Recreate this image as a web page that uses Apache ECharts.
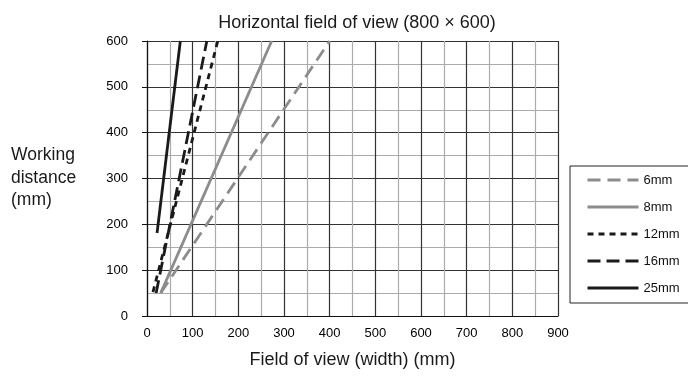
<!DOCTYPE html>
<html>
<head>
<meta charset="utf-8">
<script src="https://cdn.jsdelivr.net/npm/echarts@6/dist/echarts.min.js"></script>
<style>html,body{margin:0;padding:0;background:#fff;}#c{width:688px;height:376px;}</style>
</head>
<body>
<div id="c"></div>
<script>
// Data
const lenses = ['6mm', '8mm', '12mm', '16mm', '25mm'];
const fov6mm  = [30, 400];  const wd6mm  = [50, 600];
const fov8mm  = [30, 273];  const wd8mm  = [50, 600];
const fov12mm = [13, 155];  const wd12mm = [52, 600];
const fov16mm = [20, 131];  const wd16mm = [50, 600];
const fov25mm = [22, 73];   const wd25mm = [181, 600];
const xTicks = [0, 100, 200, 300, 400, 500, 600, 700, 800, 900];
const yTicks = [0, 100, 200, 300, 400, 500, 600];

const fovs = [fov6mm, fov8mm, fov12mm, fov16mm, fov25mm];
const wds  = [wd6mm, wd8mm, wd12mm, wd16mm, wd25mm];
const styles = [
  {color: '#8c8c8c', width: 2.8, type: [13, 7]},
  {color: '#8c8c8c', width: 2.8, type: 'solid'},
  {color: '#1a1a1a', width: 2.8, type: [6, 5]},
  {color: '#1a1a1a', width: 2.8, type: [13, 6]},
  {color: '#1a1a1a', width: 2.8, type: 'solid'}
];
const FONT = 'Liberation Sans, Arial, sans-serif';

const series = lenses.map((name, i) => ({
  name: name,
  type: 'line',
  symbol: 'none',
  data: fovs[i].map((x, k) => [x, wds[i][k]]),
  lineStyle: styles[i],
  itemStyle: {color: styles[i].color},
  z: 5
}));

const chart = echarts.init(document.getElementById('c'), null, {renderer: 'canvas'});
chart.setOption({
  animation: false,
  textStyle: {fontFamily: FONT},
  title: {
    text: 'Horizontal field of view (800 × 600)',
    left: 352, top: 9, textAlign: 'center',
    textStyle: {fontFamily: FONT, fontSize: 18, fontWeight: 'normal', color: '#1a1a1a'}
  },
  grid: {left: 147, right: 130, top: 41, bottom: 60, containLabel: false},
  xAxis: {
    type: 'value', min: xTicks[0], max: xTicks[xTicks.length - 1], interval: 100,
    name: 'Field of view (width) (mm)', nameLocation: 'middle', nameGap: 35,
    nameTextStyle: {fontFamily: FONT, fontSize: 18, color: '#1a1a1a'},
    axisLine: {show: true, lineStyle: {color: '#111', width: 1.2}},
    axisTick: {show: false},
    axisLabel: {fontFamily: FONT, fontSize: 13, color: '#000', margin: 11},
    splitLine: {show: true, lineStyle: {color: '#333', width: 1.2}},
    minorTick: {show: false, splitNumber: 2},
    minorSplitLine: {show: true, lineStyle: {color: '#ababab', width: 1.2}}
  },
  yAxis: {
    type: 'value', min: yTicks[0], max: yTicks[yTicks.length - 1], interval: 100,
    axisLine: {show: true, lineStyle: {color: '#111', width: 1.2}},
    axisTick: {show: true, inside: false, length: 5, lineStyle: {color: '#111'}},
    axisLabel: {fontFamily: FONT, fontSize: 13, color: '#000', margin: 19},
    splitLine: {show: true, lineStyle: {color: '#333', width: 1.2}},
    minorTick: {show: false, splitNumber: 2},
    minorSplitLine: {show: true, lineStyle: {color: '#ababab', width: 1.2}}
  },
  legend: {
    data: lenses,
    orient: 'vertical',
    left: 570, top: 166,
    padding: [7, 12, 8, 16],
    itemWidth: 51, itemHeight: 14, itemGap: 13,
    itemStyle: {color: 'transparent', borderWidth: 0, opacity: 0},
    lineStyle: {width: 3},
    borderColor: '#222', borderWidth: 1,
    textStyle: {fontFamily: FONT, fontSize: 13, color: '#111', height: 14, lineHeight: 14}
  },
  graphic: [{
    type: 'text', left: 11, top: 144,
    style: {text: 'Working\ndistance\n(mm)', font: '17.5px ' + FONT, fill: '#1a1a1a', lineHeight: 22.5}
  }],
  series: series
});
</script>
</body>
</html>
